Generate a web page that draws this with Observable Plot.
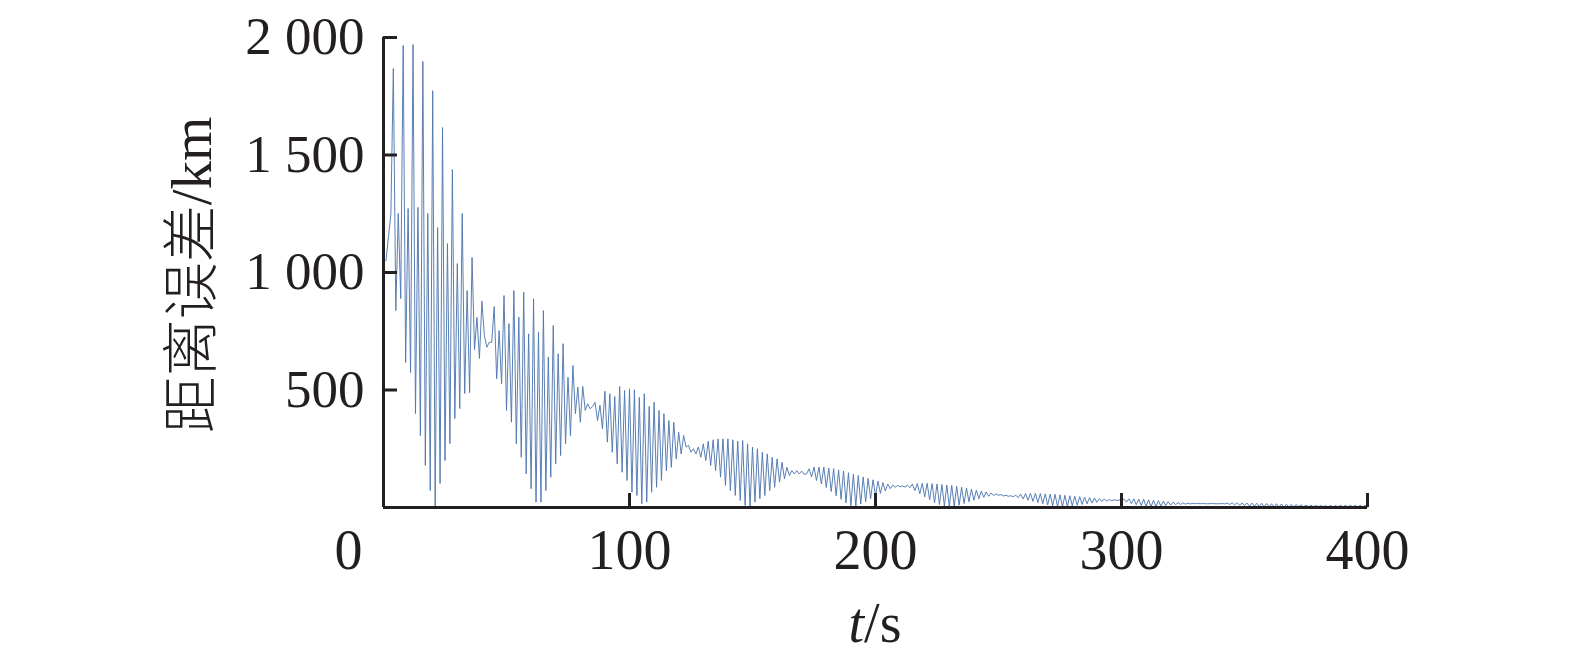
<!DOCTYPE html>
<html>
<head>
<meta charset="utf-8">
<script src="https://cdn.jsdelivr.net/npm/d3@7"></script>
<script src="https://cdn.jsdelivr.net/npm/@observablehq/plot@0.6"></script>
<style>
  html, body { margin: 0; padding: 0; background: #fff; }
  #chart svg { display: block; }
</style>
</head>
<body>
<div id="chart"></div>
<script>
// ---- data (one sample per second, t = 1 … 400 s) ----
const tStart = 1;
const distanceError = [
  1050, 1150, 1250, 1868, 838, 1251, 889, 1966, 617, 1272,
  574, 1970, 400, 1277, 306, 1898, 179, 1251, 72, 1774,
  5, 1191, 102, 1617, 200, 1123, 272, 1438, 379, 1038,
  421, 1251, 485, 923, 489, 1064, 672, 809, 634, 878,
  732, 682, 703, 703, 855, 548, 753, 526, 902, 413,
  782, 363, 923, 271, 810, 214, 916, 143, 739, 80,
  888, 23, 746, 23, 838, 72, 640, 129, 774, 186,
  654, 221, 697, 271, 554, 306, 604, 399, 512, 363,
  515, 413, 441, 420, 430, 448, 370, 435, 335, 495,
  278, 484, 235, 472, 186, 515, 150, 498, 115, 505,
  65, 501, 51, 469, 16, 484, 23, 430, 65, 448,
  86, 413, 115, 399, 157, 370, 171, 363, 207, 320,
  228, 306, 257, 264, 235, 250, 228, 257, 214, 271,
  200, 282, 179, 288, 157, 292, 129, 292, 94, 292,
  72, 288, 51, 282, 30, 285, 9, 271, 1, 257,
  23, 250, 37, 235, 51, 228, 72, 214, 86, 207,
  108, 193, 122, 171, 136, 157, 143, 157, 143, 155,
  141, 143, 165, 130, 172, 115, 172, 100, 172, 85,
  168, 68, 165, 50, 160, 35, 155, 20, 148, 8,
  142, 6, 136, 15, 130, 25, 124, 37, 118, 50,
  112, 60, 106, 70, 100, 80, 96, 86, 94, 88,
  92, 87, 95, 84, 100, 72, 102, 58, 103, 45,
  103, 32, 102, 20, 100, 12, 98, 6, 96, 3,
  94, 4, 90, 10, 86, 17, 82, 24, 78, 31,
  74, 37, 70, 43, 66, 48, 62, 51, 58, 52,
  55, 49, 52, 48, 50, 46, 52, 42, 57, 36,
  59, 31, 60, 26, 60, 21, 59, 16, 58, 11,
  57, 7, 56, 4, 54, 2, 52, 4, 50, 7,
  48, 10, 46, 13, 44, 16, 42, 19, 40, 22,
  38, 25, 36, 27, 34, 29, 33, 30, 32, 29,
  36, 23, 37, 17, 37, 12, 36, 8, 35, 5,
  33, 3, 31, 4, 29, 6, 27, 8, 25, 10,
  23, 12, 21, 13, 20, 14, 19, 15, 18, 16,
  17, 16, 17, 16, 16, 16, 17, 16, 16, 16,
  17, 15, 19, 13, 20, 11, 20, 9, 20, 8,
  19, 6, 19, 5, 18, 4, 18, 3, 17, 3,
  16, 2, 16, 2, 15, 2, 14, 2, 13, 2,
  12, 3, 11, 3, 10, 3, 9, 4, 8, 4,
  8, 4, 7, 4, 8, 3, 8, 3, 9, 3,
  9, 2, 9, 2, 9, 2, 9, 2, 9, 2
];

const xDomain = [0, 400];
const yDomain = [0, 2000];
const xTicks = [100, 200, 300, 400];
const xTickLabels = ["100", "200", "300", "400"];
const originLabel = ["0"];
const yTicks = [500, 1000, 1500, 2000];
const yTickLabels = ["500", "1 000", "1 500", "2 000"];
const xTitleItalic = "t";
const xTitleRest = "/s";
const yTitle = "距离误差/km";

const data = distanceError.map((v, i) => ({t: tStart + i, v}));

const W = 1575, H = 659;
const mL = 383, mR = 208, mT = 37, mB = 152;
const tickLen = 14;
const ink = "#231f20";
const serif = '"Liberation Serif", "Times New Roman", serif';

const chart = Plot.plot({
  width: W,
  height: H,
  marginLeft: mL,
  marginRight: mR,
  marginTop: mT,
  marginBottom: mB,
  x: {domain: xDomain, axis: null},
  y: {domain: yDomain, axis: null},
  style: {fontFamily: serif, color: ink, background: "#fff", overflow: "visible"},
  marks: [
    Plot.line(data, {x: "t", y: "v", stroke: "#5078b0", strokeWidth: 0.95}),
    Plot.ruleX([xDomain[0]], {stroke: ink, strokeWidth: 3}),
    Plot.ruleY([yDomain[0]], {stroke: ink, strokeWidth: 3}),
    // inward tick marks
    Plot.tickY(yTicks, {y: d => d, stroke: ink, strokeWidth: 3,
      insetRight: (W - mL - mR) - tickLen}),
    Plot.tickX(xTicks, {x: d => d, stroke: ink, strokeWidth: 3,
      insetTop: (H - mT - mB) - tickLen}),
    // tick labels
    Plot.text(yTicks, {x: () => xDomain[0], y: d => d, text: d => yTickLabels[yTicks.indexOf(d)],
      textAnchor: "end", dx: -19, fontSize: 53, fill: ink, lineAnchor: "middle"}),
    Plot.text(xTicks, {x: d => d, y: () => yDomain[0], text: d => xTickLabels[xTicks.indexOf(d)],
      dy: 44, fontSize: 56, fill: ink, lineAnchor: "middle"}),
    Plot.text(originLabel, {x: () => xDomain[0], y: () => yDomain[0], text: d => d,
      dx: -35, dy: 44, fontSize: 56, fill: ink, lineAnchor: "middle"})
  ]
});

const sx = chart.scale("x"), sy = chart.scale("y");
const svg = d3.select(chart);

// x title "t/s"
const xt = svg.append("text")
  .attr("x", sx.apply((xDomain[0] + xDomain[1]) / 2))
  .attr("y", sy.apply(yDomain[0]) + 116)
  .attr("text-anchor", "middle")
  .attr("dominant-baseline", "central")
  .attr("font-family", serif)
  .attr("font-size", 56)
  .attr("fill", ink);
xt.append("tspan").attr("font-style", "italic").text(xTitleItalic);
xt.append("tspan").text(xTitleRest);

// y title
const yMid = (sy.apply(yDomain[0]) + sy.apply(yDomain[1])) / 2;
svg.append("text")
  .attr("transform", `translate(${sx.apply(xDomain[0]) - 192},${yMid + 3}) rotate(-90)`)
  .attr("text-anchor", "middle")
  .attr("dominant-baseline", "central")
  .attr("font-family", '"Liberation Serif", "Noto Sans CJK SC", serif')
  .attr("font-size", 57)
  .attr("font-weight", 300)
  .attr("fill", ink)
  .text(yTitle);

document.getElementById("chart").appendChild(chart);
</script>
</body>
</html>
